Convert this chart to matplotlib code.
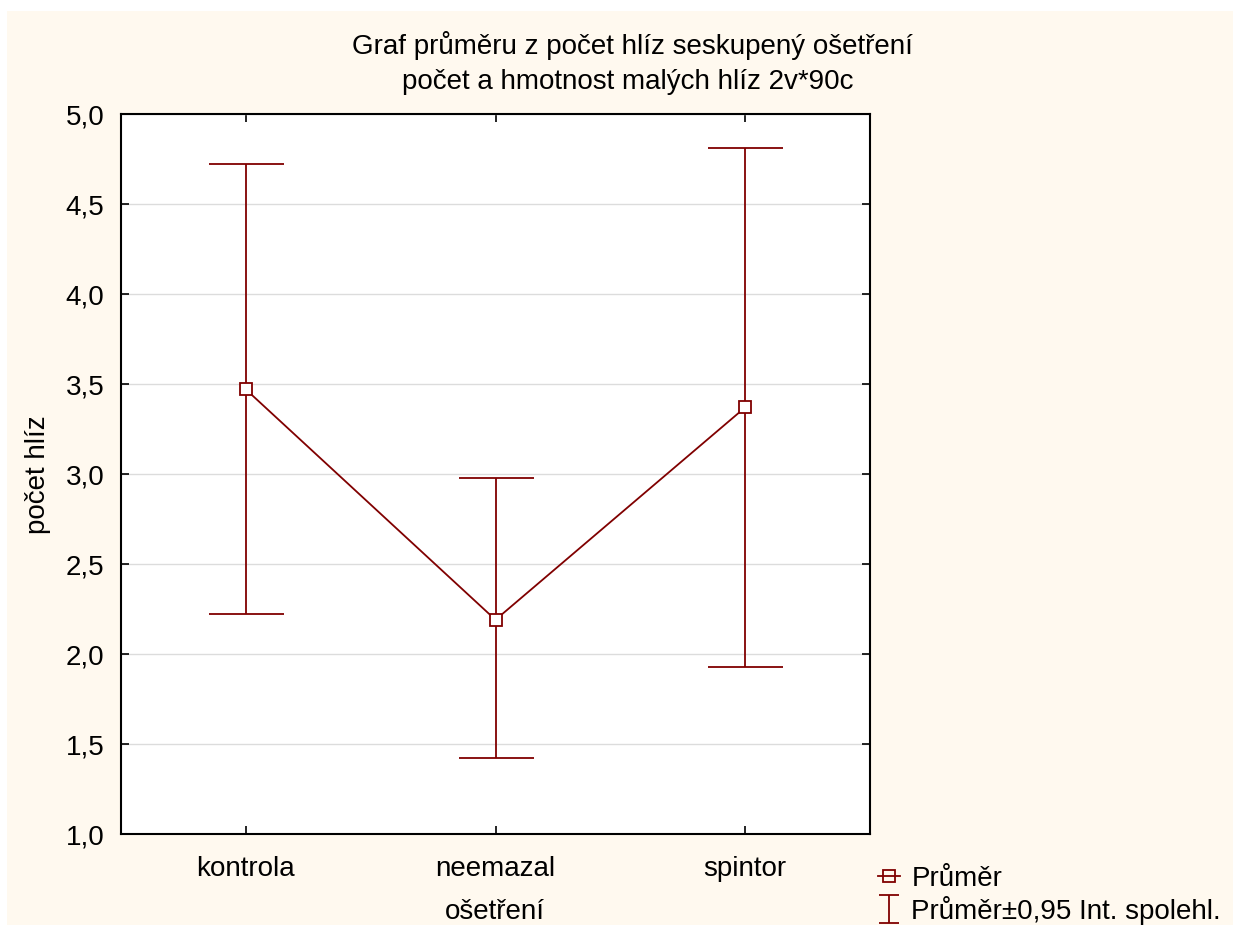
import matplotlib
matplotlib.use("Agg")
import matplotlib.pyplot as plt
from matplotlib.lines import Line2D
from matplotlib.path import Path
from matplotlib.patches import Rectangle
import numpy as np

plt.rcParams['font.family'] = ['Liberation Sans', 'DejaVu Sans']

categories = ["kontrola", "neemazal", "spintor"]
means = [3.47, 2.19, 3.37]
upper = [4.72, 2.98, 4.81]
lower = [2.22, 1.42, 1.93]
yticks = [1.0, 1.5, 2.0, 2.5, 3.0, 3.5, 4.0, 4.5, 5.0]
ytick_labels = ["1,0", "1,5", "2,0", "2,5", "3,0", "3,5", "4,0", "4,5", "5,0"]

title_lines = ["Graf průměru z počet hlíz seskupený ošetření",
               "počet a hmotnost malých hlíz 2v*90c"]
color = "#800000"
cream = "#fff9ef"
FS = 20

W, H = 1233, 925
fig = plt.figure(figsize=(W / 100, H / 100), dpi=100)
fig.patch.set_facecolor("white")
fig.patches.append(Rectangle((7 / W, 0), 1 - 7 / W, 1 - 11 / H, transform=fig.transFigure,
                             facecolor=cream, edgecolor="none", zorder=-10))

ax = fig.add_axes([121 / W, 1 - 834 / H, (870 - 121) / W, (834 - 114) / H])
ax.set_facecolor("white")

x = np.arange(1, len(categories) + 1)
m = np.array(means)
yerr = [m - np.array(lower), np.array(upper) - m]
ax.errorbar(x, m, yerr=yerr, fmt='none', ecolor=color, elinewidth=1.3, capsize=27, capthick=1.3, zorder=3)
ax.plot(x, m, color=color, lw=1.3, marker='s', markersize=9, markerfacecolor='white',
        markeredgecolor=color, markeredgewidth=1.3, zorder=4)

ax.set_xlim(0.5, 3.5)
ax.set_ylim(1.0, 5.0)
ax.set_xticks(x)
ax.set_xticklabels(categories, fontsize=FS)
ax.set_yticks(yticks)
ax.set_yticklabels(ytick_labels, fontsize=FS)
ax.yaxis.grid(True, color="#dcdcdc", lw=1)
ax.set_axisbelow(True)
ax.tick_params(direction='in', top=True, right=True, length=6, width=1.2, pad=12)
ax.tick_params(axis='x', pad=16)
for s in ax.spines.values():
    s.set_linewidth(1.5)
    s.set_color("black")

fig.text(495 / W, 1 - 912 / H, "ošetření", fontsize=FS, ha='center', va='center')
fig.text(38 / W, 1 - 475 / H, "počet hlíz", fontsize=FS, ha='center', va='center', rotation=90)

fig.text(632 / W, 1 - 45 / H, title_lines[0], ha='center', va='center', fontsize=FS)
fig.text(628 / W, 1 - 82 / H, title_lines[1], ha='center', va='center', fontsize=FS)

ibeam = Path([(-0.7, 1), (0.7, 1), (0, 1), (0, -1), (-0.7, -1), (0.7, -1)],
             [Path.MOVETO, Path.LINETO, Path.MOVETO, Path.LINETO, Path.MOVETO, Path.LINETO])
h1 = Line2D([], [], color=color, lw=1.3, marker='s', markersize=8, markerfacecolor='none',
            markeredgecolor=color, markeredgewidth=1.3)
h2 = Line2D([], [], color=color, linestyle='none', marker=ibeam, markersize=20,
            markerfacecolor='none', markeredgecolor=color, markeredgewidth=1.3)
fig.legend([h1, h2], ["Průměr", "Průměr±0,95 Int. spolehl."], loc='lower left',
           bbox_to_anchor=(878 / W, 0 / H), frameon=False, fontsize=FS, handlelength=0.8,
           handletextpad=0.4, labelspacing=0.15, borderaxespad=0, borderpad=0)

fig.savefig("out.png", dpi=100, facecolor=fig.get_facecolor())
